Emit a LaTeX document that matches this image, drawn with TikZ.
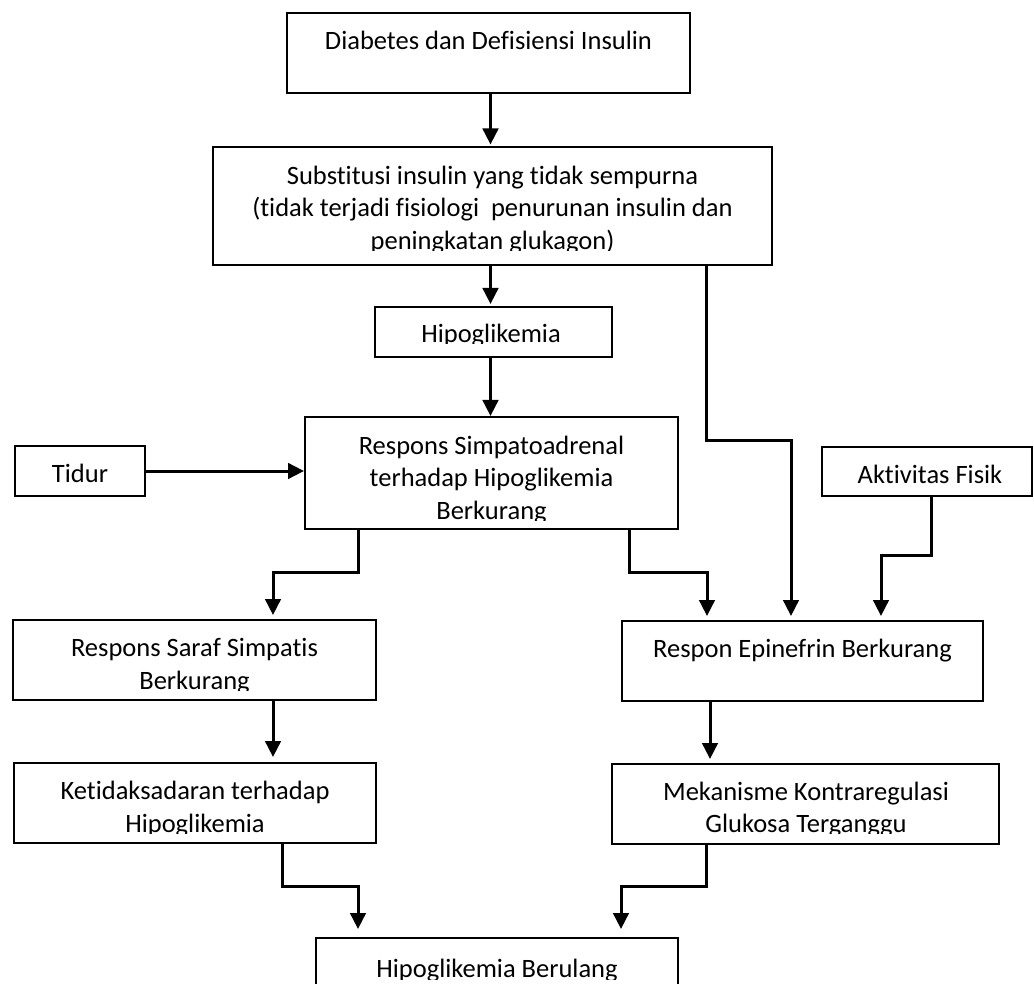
\documentclass[tikz,border=0pt]{standalone}
\usepackage{fontspec}
\setmainfont{Carlito}[Ligatures=NoCommon]
\usetikzlibrary{arrows.meta}
\newcommand\boxfont{\fontsize{26.5}{32}\selectfont}
\begin{document}
\begin{tikzpicture}[x=1pt,y=-1pt,
  box/.style={draw=black, line width=2pt, rectangle, inner sep=0pt},
  txt/.style={inner sep=0pt, anchor=base, font=\boxfont},
  conn/.style={line width=3pt, -{Triangle[length=16pt,width=15.5pt]}},
  plain/.style={line width=3pt}]
\useasboundingbox (0,0) rectangle (1034,984);
\fill[white] (0,0) rectangle (1034,984);
\clip (0,0) rectangle (1034,984);

% boxes
\node[box, minimum width=403pt, minimum height=80pt] (b1) at (488.5,53) {};
\node[box, minimum width=559pt, minimum height=118pt] (b2) at (492.5,206) {};
\node[box, minimum width=237pt, minimum height=50pt] (hipo) at (493.5,332) {};
\node[box, minimum width=373pt, minimum height=112pt] (simp) at (491.5,473) {};
\node[box, minimum width=130pt, minimum height=50pt] (tidur) at (80,471) {};
\node[box, minimum width=210pt, minimum height=49pt] (akt) at (927,471.5) {};
\node[box, minimum width=363pt, minimum height=80pt] (saraf) at (194.5,660) {};
\node[box, minimum width=362pt, minimum height=80pt] (ketid) at (195,803) {};
\node[box, minimum width=361pt, minimum height=80pt] (epi) at (802.5,661) {};
\node[box, minimum width=387pt, minimum height=80pt] (mek) at (805.5,804) {};
\node[box, minimum width=362pt, minimum height=80pt] (last) at (497,978) {};

% texts
\node[txt] (t1) at (488.5,50) {Diabetes dan Defisiensi Insulin};
\begin{scope}
\clip (213,147) rectangle (772,251);
\node[txt] (t2a) at (492.5,184.5) {Substitusi insulin yang tidak sempurna};
\node[txt] (t2b) at (492.5,217) {(tidak terjadi fisiologi\ \ penurunan insulin dan};
\node[txt] (t2c) at (492.5,249.5) {peningkatan glukagon)};
\end{scope}
\begin{scope}
\clip (375,307) rectangle (612,344);
\node[txt] (t3) at (491,343) {Hipoglikemia};
\end{scope}
\begin{scope}
\clip (305,417) rectangle (678,520);
\node[txt] (t4a) at (491.5,454) {Respons Simpatoadrenal};
\node[txt] (t4b) at (491.5,486.5) {terhadap Hipoglikemia};
\node[txt] (t4c) at (491.5,519) {Berkurang};
\end{scope}
\node[txt] (t5) at (80,482) {Tidur};
\node[txt] (t6) at (930,483.5) {Aktivitas Fisik};
\begin{scope}
\clip (13,620) rectangle (376,690);
\node[txt] (t7a) at (194.5,656) {Respons Saraf Simpatis};
\node[txt] (t7b) at (194.5,689) {Berkurang};
\end{scope}
\begin{scope}
\clip (14,763) rectangle (376,833);
\node[txt] (t8a) at (195,799.5) {Ketidaksadaran terhadap};
\node[txt] (t8b) at (195,832) {Hipoglikemia};
\end{scope}
\node[txt] (t9) at (802.5,657) {Respon Epinefrin Berkurang};
\begin{scope}
\clip (612,764) rectangle (999,833);
\node[txt] (t10a) at (806,800) {Mekanisme Kontraregulasi};
\node[txt] (t10b) at (806,832) {Glukosa Terganggu};
\end{scope}
\begin{scope}
\clip (316,938) rectangle (678,979);
\node[txt] (t11) at (497,977) {Hipoglikemia Berulang};
\end{scope}

% helper coordinates for connector columns and rows
\coordinate (c490) at (490.5,0);
\coordinate (c358) at (358,0);
\coordinate (c273) at (273,0);
\coordinate (c629) at (629,0);
\coordinate (c707) at (707,0);
\coordinate (c706) at (706,0);
\coordinate (c791) at (791,0);
\coordinate (c931) at (931,0);
\coordinate (c881) at (881,0);
\coordinate (c710) at (710,0);
\coordinate (c282) at (282,0);
\coordinate (c621) at (621,0);
\coordinate (r572) at (0,572);
\coordinate (r440) at (0,440);
\coordinate (r555) at (0,555);
\coordinate (r886) at (0,886);

% connectors
\draw[conn, shorten >=1.5pt] (b1.south -| c490) -- (b2.north -| c490);
\draw[conn, shorten >=2pt] (b2.south -| c490) -- (hipo.north -| c490);
\draw[conn] (hipo.south -| c490) -- (simp.north -| c490);
\draw[conn] (tidur.east) -- (tidur.east -| simp.west);
\draw[conn, shorten >=4pt] (simp.south -| c358) -- (c358 |- r572) -- (c273 |- r572) -- (saraf.north -| c273);
\draw[conn, shorten >=4pt] (simp.south -| c629) -- (c629 |- r572) -- (c707 |- r572) -- (epi.north -| c707);
\draw[conn, shorten >=4pt] (b2.south -| c706) -- (c706 |- r440) -- (c791 |- r440) -- (epi.north -| c791);
\draw[conn, shorten >=4pt] (akt.south -| c931) -- (c931 |- r555) -- (c881 |- r555) -- (epi.north -| c881);
\draw[conn, shorten >=5pt] (saraf.south -| c273) -- (ketid.north -| c273);
\draw[conn, shorten >=4pt] (epi.south -| c710) -- (mek.north -| c710);
\draw[conn, shorten >=8pt] (ketid.south -| c282) -- (c282 |- r886) -- (c358 |- r886) -- (last.north -| c358);
\draw[conn, shorten >=8pt] (mek.south -| c706) -- (c706 |- r886) -- (c621 |- r886) -- (last.north -| c621);
\end{tikzpicture}
\end{document}
